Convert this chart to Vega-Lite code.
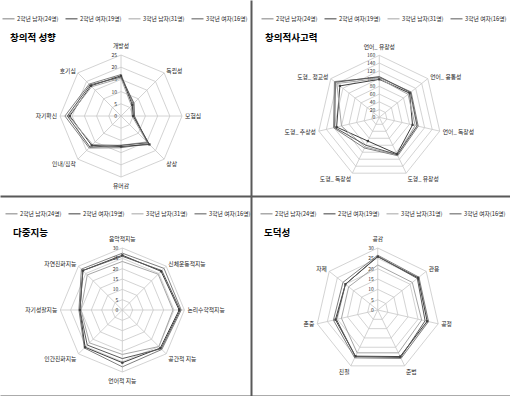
{
"$schema":"https://vega.github.io/schema/vega-lite/v6.json",
"padding":0,
"background":"white",
"config":{"view":{"stroke":null},"font":"Noto Sans CJK KR"},
"datasets":{
"ax1":[{"i":0,"k":"개방성","lv":[0,5,10,15,20,25]},{"i":1,"k":"독립성","lv":[0,5,10,15,20,25]},{"i":2,"k":"모험심","lv":[0,5,10,15,20,25]},{"i":3,"k":"상상","lv":[0,5,10,15,20,25]},{"i":4,"k":"유머감","lv":[0,5,10,15,20,25]},{"i":5,"k":"인내/집착","lv":[0,5,10,15,20,25]},{"i":6,"k":"자기확신","lv":[0,5,10,15,20,25]},{"i":7,"k":"호기심","lv":[0,5,10,15,20,25]}],
"ax2":[{"i":0,"k":"언어_ 유창성","lv":[0,20,40,60,80,100,120,140,160]},{"i":1,"k":"언어_ 융통성","lv":[0,20,40,60,80,100,120,140,160]},{"i":2,"k":"언어_ 독창성","lv":[0,20,40,60,80,100,120,140,160]},{"i":3,"k":"도형_ 유창성","lv":[0,20,40,60,80,100,120,140,160]},{"i":4,"k":"도형_ 독창성","lv":[0,20,40,60,80,100,120,140,160]},{"i":5,"k":"도형_ 추상성","lv":[0,20,40,60,80,100,120,140,160]},{"i":6,"k":"도형_ 정교성","lv":[0,20,40,60,80,100,120,140,160]}],
"ax3":[{"i":0,"k":"음악적지능","lv":[0,5,10,15,20,25,30]},{"i":1,"k":"신체운동적지능","lv":[0,5,10,15,20,25,30]},{"i":2,"k":"논리수학적지능","lv":[0,5,10,15,20,25,30]},{"i":3,"k":"공간적 지능","lv":[0,5,10,15,20,25,30]},{"i":4,"k":"언어적 지능","lv":[0,5,10,15,20,25,30]},{"i":5,"k":"인간친화지능","lv":[0,5,10,15,20,25,30]},{"i":6,"k":"자기성찰지능","lv":[0,5,10,15,20,25,30]},{"i":7,"k":"자연친화지능","lv":[0,5,10,15,20,25,30]}],
"ax4":[{"i":0,"k":"공감","lv":[0,5,10,15,20,25,30]},{"i":1,"k":"관용","lv":[0,5,10,15,20,25,30]},{"i":2,"k":"공정","lv":[0,5,10,15,20,25,30]},{"i":3,"k":"준법","lv":[0,5,10,15,20,25,30]},{"i":4,"k":"친절","lv":[0,5,10,15,20,25,30]},{"i":5,"k":"존중","lv":[0,5,10,15,20,25,30]},{"i":6,"k":"자제","lv":[0,5,10,15,20,25,30]}],
"s1":[
{"s":"2학년 남자(24명)","i":0,"v":17},{"s":"2학년 남자(24명)","i":1,"v":7},{"s":"2학년 남자(24명)","i":2,"v":5},{"s":"2학년 남자(24명)","i":3,"v":16},{"s":"2학년 남자(24명)","i":4,"v":13},{"s":"2학년 남자(24명)","i":5,"v":18.5},{"s":"2학년 남자(24명)","i":6,"v":23},{"s":"2학년 남자(24명)","i":7,"v":18.5},
{"s":"2학년 여자(19명)","i":0,"v":16.5},{"s":"2학년 여자(19명)","i":1,"v":6.5},{"s":"2학년 여자(19명)","i":2,"v":5},{"s":"2학년 여자(19명)","i":3,"v":16.5},{"s":"2학년 여자(19명)","i":4,"v":12.5},{"s":"2학년 여자(19명)","i":5,"v":17},{"s":"2학년 여자(19명)","i":6,"v":21},{"s":"2학년 여자(19명)","i":7,"v":17.5},
{"s":"3학년 남자(31명)","i":0,"v":15.5},{"s":"3학년 남자(31명)","i":1,"v":6},{"s":"3학년 남자(31명)","i":2,"v":4.5},{"s":"3학년 남자(31명)","i":3,"v":15},{"s":"3학년 남자(31명)","i":4,"v":12},{"s":"3학년 남자(31명)","i":5,"v":16.5},{"s":"3학년 남자(31명)","i":6,"v":21.5},{"s":"3학년 남자(31명)","i":7,"v":17},
{"s":"3학년 여자(16명)","i":0,"v":16},{"s":"3학년 여자(16명)","i":1,"v":7.5},{"s":"3학년 여자(16명)","i":2,"v":5.5},{"s":"3학년 여자(16명)","i":3,"v":15.5},{"s":"3학년 여자(16명)","i":4,"v":12},{"s":"3학년 여자(16명)","i":5,"v":18},{"s":"3학년 여자(16명)","i":6,"v":22},{"s":"3학년 여자(16명)","i":7,"v":18}],
"s2":[
{"s":"2학년 남자(24명)","i":0,"v":103},{"s":"2학년 남자(24명)","i":1,"v":105},{"s":"2학년 남자(24명)","i":2,"v":103},{"s":"2학년 남자(24명)","i":3,"v":110},{"s":"2학년 남자(24명)","i":4,"v":88},{"s":"2학년 남자(24명)","i":5,"v":121},{"s":"2학년 남자(24명)","i":6,"v":148},
{"s":"2학년 여자(19명)","i":0,"v":98},{"s":"2학년 여자(19명)","i":1,"v":100},{"s":"2학년 여자(19명)","i":2,"v":88},{"s":"2학년 여자(19명)","i":3,"v":105},{"s":"2학년 여자(19명)","i":4,"v":68},{"s":"2학년 여자(19명)","i":5,"v":113},{"s":"2학년 여자(19명)","i":6,"v":130},
{"s":"3학년 남자(31명)","i":0,"v":100},{"s":"3학년 남자(31명)","i":1,"v":95},{"s":"3학년 남자(31명)","i":2,"v":95},{"s":"3학년 남자(31명)","i":3,"v":108},{"s":"3학년 남자(31명)","i":4,"v":85},{"s":"3학년 남자(31명)","i":5,"v":100},{"s":"3학년 남자(31명)","i":6,"v":140},
{"s":"3학년 여자(16명)","i":0,"v":105},{"s":"3학년 여자(16명)","i":1,"v":103},{"s":"3학년 여자(16명)","i":2,"v":100},{"s":"3학년 여자(16명)","i":3,"v":107},{"s":"3학년 여자(16명)","i":4,"v":80},{"s":"3학년 여자(16명)","i":5,"v":118},{"s":"3학년 여자(16명)","i":6,"v":145}],
"s3":[
{"s":"2학년 남자(24명)","i":0,"v":27.5},{"s":"2학년 남자(24명)","i":1,"v":28.5},{"s":"2학년 남자(24명)","i":2,"v":28.5},{"s":"2학년 남자(24명)","i":3,"v":27},{"s":"2학년 남자(24명)","i":4,"v":27.5},{"s":"2학년 남자(24명)","i":5,"v":26},{"s":"2학년 남자(24명)","i":6,"v":21},{"s":"2학년 남자(24명)","i":7,"v":28},
{"s":"2학년 여자(19명)","i":0,"v":26.5},{"s":"2학년 여자(19명)","i":1,"v":26.5},{"s":"2학년 여자(19명)","i":2,"v":27.5},{"s":"2학년 여자(19명)","i":3,"v":26},{"s":"2학년 여자(19명)","i":4,"v":25.5},{"s":"2학년 여자(19명)","i":5,"v":25.5},{"s":"2학년 여자(19명)","i":6,"v":20.5},{"s":"2학년 여자(19명)","i":7,"v":27},
{"s":"3학년 남자(31명)","i":0,"v":23.5},{"s":"3학년 남자(31명)","i":1,"v":24.5},{"s":"3학년 남자(31명)","i":2,"v":24.5},{"s":"3학년 남자(31명)","i":3,"v":25},{"s":"3학년 남자(31명)","i":4,"v":21.5},{"s":"3학년 남자(31명)","i":5,"v":22.5},{"s":"3학년 남자(31명)","i":6,"v":20},{"s":"3학년 남자(31명)","i":7,"v":24},
{"s":"3학년 여자(16명)","i":0,"v":26},{"s":"3학년 여자(16명)","i":1,"v":27},{"s":"3학년 여자(16명)","i":2,"v":28},{"s":"3학년 여자(16명)","i":3,"v":26.5},{"s":"3학년 여자(16명)","i":4,"v":23.5},{"s":"3학년 여자(16명)","i":5,"v":24},{"s":"3학년 여자(16명)","i":6,"v":20.5},{"s":"3학년 여자(16명)","i":7,"v":27}],
"s4":[
{"s":"2학년 남자(24명)","i":0,"v":26.5},{"s":"2학년 남자(24명)","i":1,"v":25.5},{"s":"2학년 남자(24명)","i":2,"v":25.2},{"s":"2학년 남자(24명)","i":3,"v":26},{"s":"2학년 남자(24명)","i":4,"v":25.7},{"s":"2학년 남자(24명)","i":5,"v":22},{"s":"2학년 남자(24명)","i":6,"v":21.5},
{"s":"2학년 여자(19명)","i":0,"v":25.8},{"s":"2학년 여자(19명)","i":1,"v":25},{"s":"2학년 여자(19명)","i":2,"v":24.5},{"s":"2학년 여자(19명)","i":3,"v":25},{"s":"2학년 여자(19명)","i":4,"v":24.8},{"s":"2학년 여자(19명)","i":5,"v":21},{"s":"2학년 여자(19명)","i":6,"v":20},
{"s":"3학년 남자(31명)","i":0,"v":21.8},{"s":"3학년 남자(31명)","i":1,"v":21.4},{"s":"3학년 남자(31명)","i":2,"v":21.8},{"s":"3학년 남자(31명)","i":3,"v":23},{"s":"3학년 남자(31명)","i":4,"v":23},{"s":"3학년 남자(31명)","i":5,"v":18},{"s":"3학년 남자(31명)","i":6,"v":18},
{"s":"3학년 여자(16명)","i":0,"v":26},{"s":"3학년 여자(16명)","i":1,"v":24.5},{"s":"3학년 여자(16명)","i":2,"v":23.5},{"s":"3학년 여자(16명)","i":3,"v":25.5},{"s":"3학년 여자(16명)","i":4,"v":25},{"s":"3학년 여자(16명)","i":5,"v":20.5},{"s":"3학년 여자(16명)","i":6,"v":20}]
},
"columns":2,
"spacing":0,
"resolve":{"scale":{"color":"independent"}},
"concat":[
{
"width":251,"height":196,
"title":{"text":"창의적 성향","anchor":"start","offset":-42,"dx":10,"fontSize":9.5,"fontWeight":"bold","color":"#000"},
"encoding":{
"x":{"field":"x","type":"quantitative","scale":{"domain":[-1.984,2.131],"nice":false,"zero":false},"axis":{"orient":"bottom","labels":false,"ticks":false,"grid":false,"title":null,"domainColor":"#595959","domainWidth":2}},
"y":{"field":"y","type":"quantitative","scale":{"domain":[-1.311,1.902],"nice":false,"zero":false},"axis":{"orient":"right","labels":false,"ticks":false,"grid":false,"title":null,"domainColor":"#595959","domainWidth":2}}},
"layer":[
{"data":{"name":"ax1"},"transform":[{"flatten":["lv"]},{"calculate":"datum.i*2*PI/8","as":"a"},{"calculate":"datum.lv/25*sin(datum.a)","as":"x"},{"calculate":"datum.lv/25*cos(datum.a)","as":"y"}],"mark":{"type":"line","interpolate":"linear-closed","stroke":"#c8c8c8","strokeWidth":0.8},"encoding":{"detail":{"field":"lv","type":"nominal"},"order":{"field":"i","type":"quantitative"}}},
{"data":{"name":"ax1"},"transform":[{"calculate":"datum.i*2*PI/8","as":"a"},{"calculate":"sin(datum.a)","as":"x"},{"calculate":"cos(datum.a)","as":"y"}],"mark":{"type":"rule","stroke":"#c8c8c8","strokeWidth":0.8},"encoding":{"x2":{"datum":0},"y2":{"datum":0}}},
{"data":{"name":"ax1"},"transform":[{"filter":"datum.i==0"},{"flatten":["lv"]},{"calculate":"0","as":"x"},{"calculate":"datum.lv/25","as":"y"}],"mark":{"type":"text","align":"right","baseline":"middle","dx":-4,"fontSize":5,"fill":"#333"},"encoding":{"text":{"field":"lv","type":"quantitative"}}},
{"data":{"name":"ax1"},"transform":[{"calculate":"datum.i*2*PI/8","as":"a"},{"calculate":"sin(datum.a)","as":"sn"},{"calculate":"cos(datum.a)","as":"cs"},{"calculate":"abs(datum.sn)<0.3?1.14:1.05","as":"r"},{"calculate":"datum.r*datum.sn","as":"x"},{"calculate":"datum.r*datum.cs-(datum.cs<-0.5&&abs(datum.sn)>=0.3?0.05:0)","as":"y"},{"filter":"datum.sn>=0.3"}],"mark":{"type":"text","align":"left","baseline":"middle","fontSize":5.8,"fill":"#222"},"encoding":{"text":{"field":"k"}}},
{"data":{"name":"ax1"},"transform":[{"calculate":"datum.i*2*PI/8","as":"a"},{"calculate":"sin(datum.a)","as":"sn"},{"calculate":"cos(datum.a)","as":"cs"},{"calculate":"abs(datum.sn)<0.3?1.14:1.05","as":"r"},{"calculate":"datum.r*datum.sn","as":"x"},{"calculate":"datum.r*datum.cs-(datum.cs<-0.5&&abs(datum.sn)>=0.3?0.05:0)","as":"y"},{"filter":"datum.sn<=-0.3"}],"mark":{"type":"text","align":"right","baseline":"middle","fontSize":5.8,"fill":"#222"},"encoding":{"text":{"field":"k"}}},
{"data":{"name":"ax1"},"transform":[{"calculate":"datum.i*2*PI/8","as":"a"},{"calculate":"sin(datum.a)","as":"sn"},{"calculate":"cos(datum.a)","as":"cs"},{"calculate":"1.14","as":"r"},{"calculate":"datum.r*datum.sn","as":"x"},{"calculate":"datum.r*datum.cs","as":"y"},{"filter":"abs(datum.sn)<0.3"}],"mark":{"type":"text","align":"center","baseline":"middle","fontSize":5.8,"fill":"#222"},"encoding":{"text":{"field":"k"}}},
{"data":{"name":"s1"},"transform":[{"calculate":"datum.i*2*PI/8","as":"a"},{"calculate":"datum.v/25*sin(datum.a)","as":"x"},{"calculate":"datum.v/25*cos(datum.a)","as":"y"}],"mark":{"type":"line","interpolate":"linear-closed","strokeWidth":1},"encoding":{"color":{"field":"s","type":"nominal","scale":{"range":["#7f7f7f","#3f3f3f","#a6a6a6","#595959"]},"legend":{"orient":"none","legendX":2,"legendY":12,"direction":"horizontal","columns":4,"title":null,"labelFontSize":5.8,"labelColor":"#222","symbolType":"stroke","symbolSize":144,"symbolStrokeWidth":1,"labelOffset":2,"columnPadding":4,"labelLimit":200}},"order":{"field":"i","type":"quantitative"}}},
{"data":{"name":"s1"},"transform":[{"filter":"datum.s=='2학년 여자(19명)'"},{"calculate":"datum.i*2*PI/8","as":"a"},{"calculate":"datum.v/25*sin(datum.a)","as":"x"},{"calculate":"datum.v/25*cos(datum.a)","as":"y"}],"mark":{"type":"point","shape":"square","size":5,"filled":true,"color":"#3f3f3f","opacity":1}}
]},
{
"width":259,"height":196,
"title":{"text":"창의적사고력","anchor":"start","offset":-42,"dx":14,"fontSize":9.5,"fontWeight":"bold","color":"#000"},
"encoding":{
"x":{"field":"x","type":"quantitative","scale":{"domain":[-2.069,2.108],"nice":false,"zero":false},"axis":{"orient":"bottom","labels":false,"ticks":false,"grid":false,"title":null,"domainColor":"#595959","domainWidth":2}},
"y":{"field":"y","type":"quantitative","scale":{"domain":[-1.269,1.892],"nice":false,"zero":false},"axis":null}},
"layer":[
{"data":{"name":"ax2"},"transform":[{"flatten":["lv"]},{"calculate":"datum.i*2*PI/7","as":"a"},{"calculate":"datum.lv/160*sin(datum.a)","as":"x"},{"calculate":"datum.lv/160*cos(datum.a)","as":"y"}],"mark":{"type":"line","interpolate":"linear-closed","stroke":"#c8c8c8","strokeWidth":0.8},"encoding":{"detail":{"field":"lv","type":"nominal"},"order":{"field":"i","type":"quantitative"}}},
{"data":{"name":"ax2"},"transform":[{"calculate":"datum.i*2*PI/7","as":"a"},{"calculate":"sin(datum.a)","as":"x"},{"calculate":"cos(datum.a)","as":"y"}],"mark":{"type":"rule","stroke":"#c8c8c8","strokeWidth":0.8},"encoding":{"x2":{"datum":0},"y2":{"datum":0}}},
{"data":{"name":"ax2"},"transform":[{"filter":"datum.i==0"},{"flatten":["lv"]},{"calculate":"0","as":"x"},{"calculate":"datum.lv/160","as":"y"}],"mark":{"type":"text","align":"right","baseline":"middle","dx":-4,"fontSize":5,"fill":"#333"},"encoding":{"text":{"field":"lv","type":"quantitative"}}},
{"data":{"name":"ax2"},"transform":[{"calculate":"datum.i*2*PI/7","as":"a"},{"calculate":"sin(datum.a)","as":"sn"},{"calculate":"cos(datum.a)","as":"cs"},{"calculate":"abs(datum.sn)<0.3?1.14:1.05","as":"r"},{"calculate":"datum.r*datum.sn","as":"x"},{"calculate":"datum.r*datum.cs-(datum.cs<-0.5&&abs(datum.sn)>=0.3?0.05:0)","as":"y"},{"filter":"datum.sn>=0.3"}],"mark":{"type":"text","align":"left","baseline":"middle","fontSize":5.8,"fill":"#222"},"encoding":{"text":{"field":"k"}}},
{"data":{"name":"ax2"},"transform":[{"calculate":"datum.i*2*PI/7","as":"a"},{"calculate":"sin(datum.a)","as":"sn"},{"calculate":"cos(datum.a)","as":"cs"},{"calculate":"abs(datum.sn)<0.3?1.14:1.05","as":"r"},{"calculate":"datum.r*datum.sn","as":"x"},{"calculate":"datum.r*datum.cs-(datum.cs<-0.5&&abs(datum.sn)>=0.3?0.05:0)","as":"y"},{"filter":"datum.sn<=-0.3"}],"mark":{"type":"text","align":"right","baseline":"middle","fontSize":5.8,"fill":"#222"},"encoding":{"text":{"field":"k"}}},
{"data":{"name":"ax2"},"transform":[{"calculate":"datum.i*2*PI/7","as":"a"},{"calculate":"sin(datum.a)","as":"sn"},{"calculate":"cos(datum.a)","as":"cs"},{"calculate":"1.14","as":"r"},{"calculate":"datum.r*datum.sn","as":"x"},{"calculate":"datum.r*datum.cs","as":"y"},{"filter":"abs(datum.sn)<0.3"}],"mark":{"type":"text","align":"center","baseline":"middle","fontSize":5.8,"fill":"#222"},"encoding":{"text":{"field":"k"}}},
{"data":{"name":"s2"},"transform":[{"calculate":"datum.i*2*PI/7","as":"a"},{"calculate":"datum.v/160*sin(datum.a)","as":"x"},{"calculate":"datum.v/160*cos(datum.a)","as":"y"}],"mark":{"type":"line","interpolate":"linear-closed","strokeWidth":1},"encoding":{"color":{"field":"s","type":"nominal","scale":{"range":["#7f7f7f","#3f3f3f","#a6a6a6","#595959"]},"legend":{"orient":"none","legendX":10,"legendY":12,"direction":"horizontal","columns":4,"title":null,"labelFontSize":5.8,"labelColor":"#222","symbolType":"stroke","symbolSize":144,"symbolStrokeWidth":1,"labelOffset":2,"columnPadding":4,"labelLimit":200}},"order":{"field":"i","type":"quantitative"}}},
{"data":{"name":"s2"},"transform":[{"filter":"datum.s=='2학년 여자(19명)'"},{"calculate":"datum.i*2*PI/7","as":"a"},{"calculate":"datum.v/160*sin(datum.a)","as":"x"},{"calculate":"datum.v/160*cos(datum.a)","as":"y"}],"mark":{"type":"point","shape":"square","size":5,"filled":true,"color":"#3f3f3f","opacity":1}}
]},
{
"width":251,"height":200,
"title":{"text":"다중지능","anchor":"start","offset":-41,"dx":13,"fontSize":9.5,"fontWeight":"bold","color":"#000"},
"encoding":{
"x":{"field":"x","type":"quantitative","scale":{"domain":[-1.973,2.075],"nice":false,"zero":false},"axis":{"orient":"bottom","labels":false,"ticks":false,"grid":false,"title":null,"domainColor":"#595959","domainWidth":2}},
"y":{"field":"y","type":"quantitative","scale":{"domain":[-1.387,1.839],"nice":false,"zero":false},"axis":{"orient":"right","labels":false,"ticks":false,"grid":false,"title":null,"domainColor":"#595959","domainWidth":2}}},
"layer":[
{"data":{"name":"ax3"},"transform":[{"flatten":["lv"]},{"calculate":"datum.i*2*PI/8","as":"a"},{"calculate":"datum.lv/30*sin(datum.a)","as":"x"},{"calculate":"datum.lv/30*cos(datum.a)","as":"y"}],"mark":{"type":"line","interpolate":"linear-closed","stroke":"#c8c8c8","strokeWidth":0.8},"encoding":{"detail":{"field":"lv","type":"nominal"},"order":{"field":"i","type":"quantitative"}}},
{"data":{"name":"ax3"},"transform":[{"calculate":"datum.i*2*PI/8","as":"a"},{"calculate":"sin(datum.a)","as":"x"},{"calculate":"cos(datum.a)","as":"y"}],"mark":{"type":"rule","stroke":"#c8c8c8","strokeWidth":0.8},"encoding":{"x2":{"datum":0},"y2":{"datum":0}}},
{"data":{"name":"ax3"},"transform":[{"filter":"datum.i==0"},{"flatten":["lv"]},{"calculate":"0","as":"x"},{"calculate":"datum.lv/30","as":"y"}],"mark":{"type":"text","align":"right","baseline":"middle","dx":-4,"fontSize":5,"fill":"#333"},"encoding":{"text":{"field":"lv","type":"quantitative"}}},
{"data":{"name":"ax3"},"transform":[{"calculate":"datum.i*2*PI/8","as":"a"},{"calculate":"sin(datum.a)","as":"sn"},{"calculate":"cos(datum.a)","as":"cs"},{"calculate":"abs(datum.sn)<0.3?1.14:1.05","as":"r"},{"calculate":"datum.r*datum.sn","as":"x"},{"calculate":"datum.r*datum.cs-(datum.cs<-0.5&&abs(datum.sn)>=0.3?0.05:0)","as":"y"},{"filter":"datum.sn>=0.3"}],"mark":{"type":"text","align":"left","baseline":"middle","fontSize":5.8,"fill":"#222"},"encoding":{"text":{"field":"k"}}},
{"data":{"name":"ax3"},"transform":[{"calculate":"datum.i*2*PI/8","as":"a"},{"calculate":"sin(datum.a)","as":"sn"},{"calculate":"cos(datum.a)","as":"cs"},{"calculate":"abs(datum.sn)<0.3?1.14:1.05","as":"r"},{"calculate":"datum.r*datum.sn","as":"x"},{"calculate":"datum.r*datum.cs-(datum.cs<-0.5&&abs(datum.sn)>=0.3?0.05:0)","as":"y"},{"filter":"datum.sn<=-0.3"}],"mark":{"type":"text","align":"right","baseline":"middle","fontSize":5.8,"fill":"#222"},"encoding":{"text":{"field":"k"}}},
{"data":{"name":"ax3"},"transform":[{"calculate":"datum.i*2*PI/8","as":"a"},{"calculate":"sin(datum.a)","as":"sn"},{"calculate":"cos(datum.a)","as":"cs"},{"calculate":"1.14","as":"r"},{"calculate":"datum.r*datum.sn","as":"x"},{"calculate":"datum.r*datum.cs","as":"y"},{"filter":"abs(datum.sn)<0.3"}],"mark":{"type":"text","align":"center","baseline":"middle","fontSize":5.8,"fill":"#222"},"encoding":{"text":{"field":"k"}}},
{"data":{"name":"s3"},"transform":[{"calculate":"datum.i*2*PI/8","as":"a"},{"calculate":"datum.v/30*sin(datum.a)","as":"x"},{"calculate":"datum.v/30*cos(datum.a)","as":"y"}],"mark":{"type":"line","interpolate":"linear-closed","strokeWidth":1},"encoding":{"color":{"field":"s","type":"nominal","scale":{"range":["#7f7f7f","#3f3f3f","#a6a6a6","#595959"]},"legend":{"orient":"none","legendX":5,"legendY":11,"direction":"horizontal","columns":4,"title":null,"labelFontSize":5.8,"labelColor":"#222","symbolType":"stroke","symbolSize":144,"symbolStrokeWidth":1,"labelOffset":2,"columnPadding":4,"labelLimit":200}},"order":{"field":"i","type":"quantitative"}}},
{"data":{"name":"s3"},"transform":[{"filter":"datum.s=='2학년 여자(19명)'"},{"calculate":"datum.i*2*PI/8","as":"a"},{"calculate":"datum.v/30*sin(datum.a)","as":"x"},{"calculate":"datum.v/30*cos(datum.a)","as":"y"}],"mark":{"type":"point","shape":"square","size":5,"filled":true,"color":"#3f3f3f","opacity":1}}
]},
{
"width":259,"height":200,
"title":{"text":"도덕성","anchor":"start","offset":-41,"dx":13,"fontSize":9.5,"fontWeight":"bold","color":"#000"},
"encoding":{
"x":{"field":"x","type":"quantitative","scale":{"domain":[-2.044,2.133],"nice":false,"zero":false},"axis":{"orient":"bottom","labels":false,"ticks":false,"grid":false,"title":null,"domainColor":"#595959","domainWidth":2}},
"y":{"field":"y","type":"quantitative","scale":{"domain":[-1.387,1.839],"nice":false,"zero":false},"axis":null}},
"layer":[
{"data":{"name":"ax4"},"transform":[{"flatten":["lv"]},{"calculate":"datum.i*2*PI/7","as":"a"},{"calculate":"datum.lv/30*sin(datum.a)","as":"x"},{"calculate":"datum.lv/30*cos(datum.a)","as":"y"}],"mark":{"type":"line","interpolate":"linear-closed","stroke":"#c8c8c8","strokeWidth":0.8},"encoding":{"detail":{"field":"lv","type":"nominal"},"order":{"field":"i","type":"quantitative"}}},
{"data":{"name":"ax4"},"transform":[{"calculate":"datum.i*2*PI/7","as":"a"},{"calculate":"sin(datum.a)","as":"x"},{"calculate":"cos(datum.a)","as":"y"}],"mark":{"type":"rule","stroke":"#c8c8c8","strokeWidth":0.8},"encoding":{"x2":{"datum":0},"y2":{"datum":0}}},
{"data":{"name":"ax4"},"transform":[{"filter":"datum.i==0"},{"flatten":["lv"]},{"calculate":"0","as":"x"},{"calculate":"datum.lv/30","as":"y"}],"mark":{"type":"text","align":"right","baseline":"middle","dx":-4,"fontSize":5,"fill":"#333"},"encoding":{"text":{"field":"lv","type":"quantitative"}}},
{"data":{"name":"ax4"},"transform":[{"calculate":"datum.i*2*PI/7","as":"a"},{"calculate":"sin(datum.a)","as":"sn"},{"calculate":"cos(datum.a)","as":"cs"},{"calculate":"abs(datum.sn)<0.3?1.14:1.05","as":"r"},{"calculate":"datum.r*datum.sn","as":"x"},{"calculate":"datum.r*datum.cs-(datum.cs<-0.5&&abs(datum.sn)>=0.3?0.05:0)","as":"y"},{"filter":"datum.sn>=0.3"}],"mark":{"type":"text","align":"left","baseline":"middle","fontSize":5.8,"fill":"#222"},"encoding":{"text":{"field":"k"}}},
{"data":{"name":"ax4"},"transform":[{"calculate":"datum.i*2*PI/7","as":"a"},{"calculate":"sin(datum.a)","as":"sn"},{"calculate":"cos(datum.a)","as":"cs"},{"calculate":"abs(datum.sn)<0.3?1.14:1.05","as":"r"},{"calculate":"datum.r*datum.sn","as":"x"},{"calculate":"datum.r*datum.cs-(datum.cs<-0.5&&abs(datum.sn)>=0.3?0.05:0)","as":"y"},{"filter":"datum.sn<=-0.3"}],"mark":{"type":"text","align":"right","baseline":"middle","fontSize":5.8,"fill":"#222"},"encoding":{"text":{"field":"k"}}},
{"data":{"name":"ax4"},"transform":[{"calculate":"datum.i*2*PI/7","as":"a"},{"calculate":"sin(datum.a)","as":"sn"},{"calculate":"cos(datum.a)","as":"cs"},{"calculate":"1.14","as":"r"},{"calculate":"datum.r*datum.sn","as":"x"},{"calculate":"datum.r*datum.cs","as":"y"},{"filter":"abs(datum.sn)<0.3"}],"mark":{"type":"text","align":"center","baseline":"middle","fontSize":5.8,"fill":"#222"},"encoding":{"text":{"field":"k"}}},
{"data":{"name":"s4"},"transform":[{"calculate":"datum.i*2*PI/7","as":"a"},{"calculate":"datum.v/30*sin(datum.a)","as":"x"},{"calculate":"datum.v/30*cos(datum.a)","as":"y"}],"mark":{"type":"line","interpolate":"linear-closed","strokeWidth":1},"encoding":{"color":{"field":"s","type":"nominal","scale":{"range":["#7f7f7f","#3f3f3f","#a6a6a6","#595959"]},"legend":{"orient":"none","legendX":9,"legendY":11,"direction":"horizontal","columns":4,"title":null,"labelFontSize":5.8,"labelColor":"#222","symbolType":"stroke","symbolSize":144,"symbolStrokeWidth":1,"labelOffset":2,"columnPadding":4,"labelLimit":200}},"order":{"field":"i","type":"quantitative"}}},
{"data":{"name":"s4"},"transform":[{"filter":"datum.s=='2학년 여자(19명)'"},{"calculate":"datum.i*2*PI/7","as":"a"},{"calculate":"datum.v/30*sin(datum.a)","as":"x"},{"calculate":"datum.v/30*cos(datum.a)","as":"y"}],"mark":{"type":"point","shape":"square","size":5,"filled":true,"color":"#3f3f3f","opacity":1}}
]}
]
}
